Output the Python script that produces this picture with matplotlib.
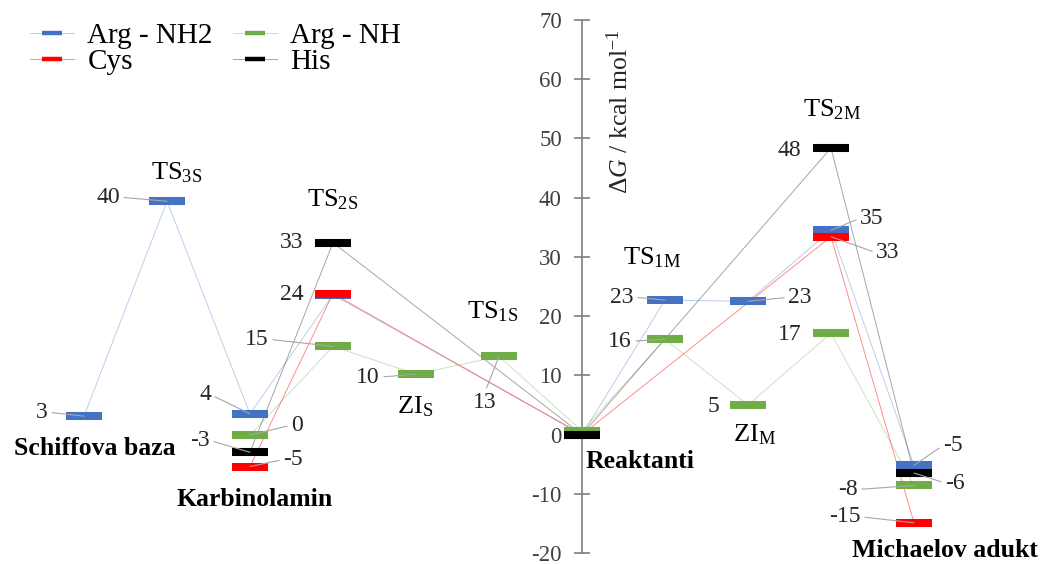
import numpy as np
import matplotlib
matplotlib.use("Agg")
import matplotlib.pyplot as plt
from matplotlib.lines import Line2D

plt.rcParams['font.family'] = ['Liberation Serif', 'DejaVu Serif']
plt.rcParams['mathtext.fontset'] = 'custom'
plt.rcParams['mathtext.rm'] = 'Liberation Serif'
plt.rcParams['mathtext.it'] = 'Liberation Serif:italic'
plt.rcParams['mathtext.bf'] = 'Liberation Serif:bold'
plt.rcParams['axes.unicode_minus'] = False

# ---------------- data ----------------
states = ['Schiffova baza', 'TS3S', 'Karbinolamin', 'TS2S', 'ZIS', 'TS1S',
          'Reaktanti', 'TS1M', 'ZIM', 'TS2M', 'Michaelov adukt']
nan = np.nan
arg_nh2 = [3.1, 39.4, 3.5, 23.6, nan, nan, 0.0, 22.7, 22.5, 34.5, -5.2]
arg_nh = [nan, nan, -0.1, 14.9, 10.2, 13.2, 0.6, 16.1, 5.0, 17.1, -8.6]
cys = [nan, nan, -5.4, 23.8, nan, nan, 0.0, nan, nan, 33.4, -14.9]
his = [nan, nan, -3.0, 32.4, nan, nan, 0.0, nan, nan, 48.4, -6.5]

arg_nh2_labels = ['3', '40', '4', '', '', '', '', '23', '23', '35', '-5']
arg_nh_labels = ['', '', '0', '15', '10', '13', '', '16', '5', '17', '-8']
cys_labels = ['', '', '-5', '24', '', '', '', '', '', '33', '-15']
his_labels = ['', '', '-3', '33', '', '', '', '', '', '48', '-6']

series_names = ['Arg - NH2', 'Arg - NH', 'Cys', 'His']
y_ticks = [-20, -10, 0, 10, 20, 30, 40, 50, 60, 70]

# ---------------- styles / layout ----------------
colors = ['#4472C4', '#70AD47', '#FF0000', '#000000']
line_alpha = [0.35, 0.35, 0.45, 0.35]

# label offsets in pixels (dx, dy) and whether a leader line is drawn
label_layout = {
    (0, 0): (-42, 4, True), (0, 1): (-59, 4, True), (0, 2): (-45, 19, True),
    (0, 7): (-43, 3, True), (0, 8): (52, 4, True), (0, 9): (41, 12, True),
    (0, 10): (39, 20, True),
    (1, 2): (47, 10, True), (1, 3): (-76, 7, True), (1, 4): (-48, -3, True),
    (1, 5): (-14, -46, True), (1, 7): (-45, -2, True), (1, 8): (-35, -2, False),
    (1, 9): (-41, -1, False), (1, 10): (-66, -4, True),
    (2, 2): (43, 7, True), (2, 3): (-41, -1, False), (2, 9): (57, -16, True),
    (2, 10): (-69, 6, True),
    (3, 2): (-50, 12, True), (3, 3): (-41, 0, False), (3, 9): (-42, -3, False),
    (3, 10): (41, -10, True),
}

state_text = {
    0: ('Schiffova baza', 0.13, -2.4, 'bold'),
    1: (r'TS$_{\mathrm{3S}}$', 1.12, 44.3, 'normal'),
    2: ('Karbinolamin', 2.06, -11.0, 'bold'),
    3: (r'TS$_{\mathrm{2S}}$', 3.0, 39.6, 'normal'),
    4: (r'ZI$_{\mathrm{S}}$', 3.99, 4.7, 'normal'),
    5: (r'TS$_{\mathrm{1S}}$', 4.92, 20.7, 'normal'),
    6: ('Reaktanti', 6.7, -4.6, 'bold'),
    7: (r'TS$_{\mathrm{1M}}$', 6.84, 29.8, 'normal'),
    8: (r'ZI$_{\mathrm{M}}$', 8.08, -0.1, 'normal'),
    9: (r'TS$_{\mathrm{2M}}$', 9.01, 54.8, 'normal'),
    10: ('Michaelov adukt', 10.37, -19.5, 'bold'),
}

W, H = 1049, 564
fig = plt.figure(figsize=(W / 100, H / 100), dpi=100)
x0_px, dx_px = 84, 83
left = (x0_px - 0.5 * dx_px) / W
width = 11 * dx_px / W
top_px, bot_px = 20, 553
ax = fig.add_axes([left, (H - bot_px) / H, width, (bot_px - top_px) / H])
ax.set_xlim(-0.5, 10.5)
ax.set_ylim(-20, 70)

x = np.arange(len(states))
all_series = [arg_nh2, arg_nh, cys, his]
all_labels = [arg_nh2_labels, arg_nh_labels, cys_labels, his_labels]

half_w = 0.217
for si, (vals, col, la) in enumerate(zip(all_series, colors, line_alpha)):
    v = np.array(vals, dtype=float)
    m = ~np.isnan(v)
    ax.plot(x[m], v[m], color=col, lw=0.7, alpha=la, zorder=2 + si * 0.1)
for si, (vals, col) in enumerate(zip(all_series, colors)):
    v = np.array(vals, dtype=float)
    m = ~np.isnan(v)
    ax.hlines(v[m], x[m] - half_w, x[m] + half_w, colors=col, lw=5.8,
              capstyle='butt', zorder=3 + si * 0.1)

# data labels
for si, (vals, labs) in enumerate(zip(all_series, all_labels)):
    for i, (val, lab) in enumerate(zip(vals, labs)):
        if not lab:
            continue
        dxo, dyo, leader = label_layout[(si, i)]
        if leader:
            if abs(dxo) < 20:
                rp = (0.5, 1.0) if dyo < 0 else (0.5, 0.0)
            else:
                rp = (1.0, 0.5) if dxo < 0 else (0.0, 0.5)
            ap = dict(arrowstyle='-', color='#A6A6A6', lw=0.8, relpos=rp,
                      shrinkA=1, shrinkB=0)
        else:
            ap = None
        ax.annotate(lab, xy=(i, val), xytext=(dxo, dyo),
                    textcoords='offset pixels', ha='center', va='center',
                    fontsize=17, color='#262626', arrowprops=ap, zorder=5)

# state names
for i, (txt, tx, ty, fw) in state_text.items():
    fs = 18.5 if fw == 'bold' else 19
    ax.text(tx, ty, txt, ha='center', va='center', fontsize=fs,
            fontweight=fw, color='black', zorder=6)

# axis styling
for s in ['top', 'right', 'bottom']:
    ax.spines[s].set_visible(False)
ax.spines['left'].set_position(('data', 6))
ax.spines['left'].set_color('#7F7F7F')
ax.spines['left'].set_linewidth(1.2)
ax.spines['left'].set_zorder(1)
ax.set_xticks([])
ax.set_yticks(y_ticks)
ax.tick_params(axis='y', direction='inout', length=11, width=1.2,
               color='#7F7F7F', labelsize=16.5, labelcolor='#404040', pad=9)

ax.text(6.45, 54.5, r'Δ$\mathit{G}$ / kcal mol$^{-1}$', rotation=90,
        ha='center', va='center', fontsize=18.5, color='#262626')

# legend
handles = []
for col, la in zip(colors, line_alpha):
    l1 = Line2D([], [], color=col, lw=0.7, alpha=la)
    l2 = Line2D([], [], color=col, marker='_', ms=14, mew=3.2, ls='none')
    handles.append((l1, l2))
order = [0, 2, 1, 3]
leg = fig.legend([handles[k] for k in order], [series_names[k] for k in order],
                 ncol=2, loc='upper left', bbox_to_anchor=(10 / W, 1 - 2 / H),
                 frameon=False, fontsize=21, handlelength=1.5,
                 handletextpad=0.45, columnspacing=0.7, labelspacing=0.0,
                 borderpad=0.2)

fig.savefig('out.png', dpi=100)
